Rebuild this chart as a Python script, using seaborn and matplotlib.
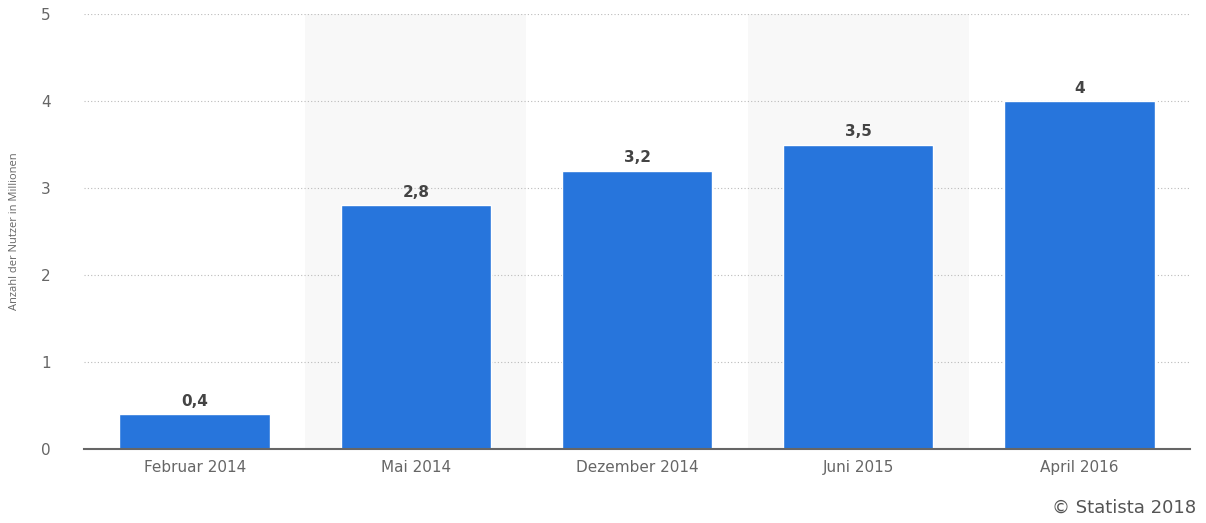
import pandas as pd
import seaborn as sns
import matplotlib.pyplot as plt

# Daten aus dem Diagramm
kategorien = ['Februar 2014', 'Mai 2014', 'Dezember 2014', 'Juni 2015', 'April 2016']
nutzer_mio = [0.4, 2.8, 3.2, 3.5, 4.0]
werte_text = ['0,4', '2,8', '3,2', '3,5', '4']

BAR_COLOR = '#2775dc'
TEXT_GRAY = '#666666'

sns.set_theme(style="white")
plt.rcParams['font.family'] = ['DejaVu Sans']

df = pd.DataFrame({'zeitpunkt': kategorien, 'nutzer': nutzer_mio})

fig = plt.figure(figsize=(12.06, 5.23), dpi=100)
ax = fig.add_axes([0.0697, 0.1415, 0.917, 0.8315])

# abwechselnd hinterlegte Spalten
for i in range(len(kategorien)):
    if i % 2 == 1:
        ax.axvspan(i - 0.5, i + 0.5, color='#f8f8f8', zorder=0, lw=0)

sns.barplot(data=df, x='zeitpunkt', y='nutzer', color=BAR_COLOR,
            saturation=1, width=0.68, ax=ax, zorder=3)

ax.set_xlim(-0.5, len(kategorien) - 0.5)
ax.set_ylim(0, 5)
ax.set_yticks(range(0, 6))
ax.yaxis.grid(True, linestyle=(0, (1, 2)), color='#bbbbbb', linewidth=0.8, zorder=1)
ax.set_axisbelow(True)

for s in ['top', 'right', 'left']:
    ax.spines[s].set_visible(False)
ax.spines['bottom'].set_color('#666666')
ax.spines['bottom'].set_linewidth(1.5)
ax.spines['bottom'].set_zorder(4)

ax.tick_params(axis='x', length=0, pad=8, labelsize=11, labelcolor=TEXT_GRAY)
ax.tick_params(axis='y', length=0, pad=24, labelsize=11, labelcolor=TEXT_GRAY)
ax.set_xlabel('')
ax.set_ylabel('Anzahl der Nutzer in Millionen', fontsize=8, color=TEXT_GRAY,
              family=['Open Sans', 'DejaVu Sans'])
ax.yaxis.set_label_coords(-0.058, 0.5)

# Werte über den Balken
for i, (v, t) in enumerate(zip(nutzer_mio, werte_text)):
    ax.annotate(t, (i, v), xytext=(0, 4), textcoords='offset points',
                ha='center', va='bottom', fontsize=11, fontweight='bold',
                color='#444444', zorder=5)

fig.text(0.992, 0.012, '© Statista 2018', ha='right', va='bottom',
         fontsize=13, color='#555555')

fig.savefig('out.png', dpi=100, facecolor='white')
